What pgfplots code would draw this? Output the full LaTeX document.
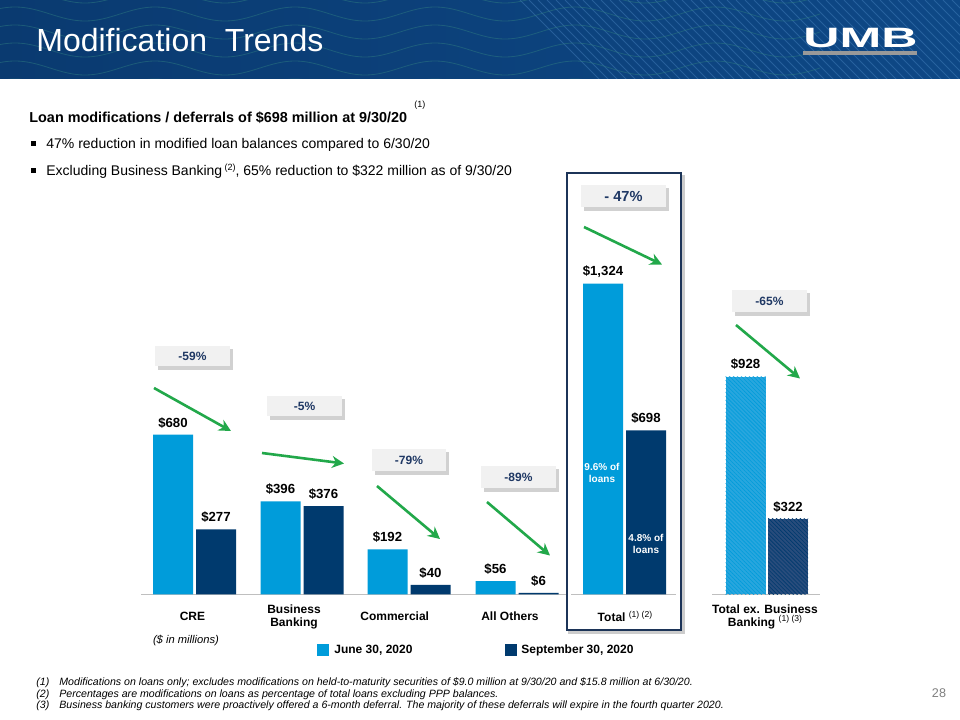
\documentclass[border=0pt]{standalone}
\usepackage{fontspec}
\setmainfont{Liberation Sans}
\usepackage{pgfplots}
\pgfplotsset{compat=1.18}
\usetikzlibrary{patterns,patterns.meta,arrows.meta}

\definecolor{lb}{RGB}{0,156,218}
\definecolor{db}{RGB}{0,58,110}
\definecolor{hl}{RGB}{40,166,222}
\definecolor{hd}{RGB}{40,76,124}
\definecolor{arr}{RGB}{34,168,74}
\definecolor{boxf}{RGB}{241,241,241}
\definecolor{navy}{RGB}{31,56,100}
\definecolor{frm}{RGB}{28,52,88}
\definecolor{hdrL}{RGB}{10,58,112}
\definecolor{hdrR}{RGB}{14,72,134}
\definecolor{stripe}{RGB}{70,130,190}
\definecolor{wave}{RGB}{50,130,130}

\newcommand{\fs}[2]{\fontsize{#1bp}{#2bp}\selectfont}
\newcommand{\pbox}[6]{%
  \fill[black!18] (#1+2.5,#2+3) rectangle (#3+3,#4+3.5);
  \fill[boxf] (#1,#2) rectangle (#3,#4);
  \node[text=navy, font=\bfseries\fs{#6}{#6}, inner sep=0] at ({(#1+#3)/2},{(#2+#4)/2}) {#5};}

\begin{document}
\begin{tikzpicture}[x=0.5bp,y=-0.5bp]
\path[use as bounding box] (0,0) rectangle (960,720);
\fill[white] (0,0) rectangle (960,720);
% header
\shade[left color=hdrL, right color=hdrR] (0,0) rectangle (960,78);
\begin{scope}
\clip (0,0) rectangle (960,78);
\foreach \i in {520,529,...,960} \draw[stripe, opacity=0.45, line width=0.5bp] (\i,0) -- ++(80,80);
\foreach \j in {-4,14,32,50,68,86}
  \draw[wave, opacity=0.45, line width=0.4bp] (-20,\j) \foreach \k in {0,...,5} { sin ++(35,-7) cos ++(35,7) sin ++(35,7) cos ++(35,-7)};
\end{scope}
\node[anchor=base west, text=white, font=\fs{16}{20}, inner sep=0] at (36,51) {Modification\ \ Trends};
\node[anchor=base west, text=white, font=\bfseries\fs{14}{14}, inner sep=0] at (803,47) {\scalebox{1.79}[1]{UMB}};
\fill[black!40] (803,51) rectangle (917,55);

% intro text
\node[anchor=base west, font=\bfseries\fs{7.2}{8}, inner sep=0] at (29,122) {Loan modifications / deferrals of \$698 million at 9/30/20};
\node[anchor=base west, font=\fs{4.5}{5}, inner sep=0] at (414,107) {(1)};
\fill (31,141) rectangle (35.5,145.5);
\node[anchor=base west, font=\fs{7}{8}, inner sep=0] at (46,148) {47\% reduction in modified loan balances compared to 6/30/20};
\fill (31,168) rectangle (35.5,172.5);
\node[anchor=base west, font=\fs{7}{8}, inner sep=0] at (46,175) {Excluding Business Banking\,\raisebox{2.5bp}{\fs{4.5}{5}(2)}, 65\% reduction to \$322 million as of 9/30/20};

% highlight frame
\draw[black!20, line width=1.5bp] (569,176) rectangle (683,632);
\fill[white] (567,173) rectangle (681,630);
\draw[frm, line width=1.1bp] (567,173) rectangle (681,630);

% baseline lines
\draw[black!25, line width=0.6bp] (141,594.5) -- (566,594.5);
\draw[black!25, line width=0.6bp] (571,594.5) -- (676,594.5);
\draw[black!25, line width=0.6bp] (712,594.5) -- (820,594.5);

\begin{axis}[at={(0bp,-360bp)}, anchor=south west, width=480bp, height=360bp, scale only axis,
  xmin=0, xmax=960, ymin=-535.6, ymax=2532.2, clip=false,
  axis line style={draw=none}, ytick=\empty, major tick length=0pt,
  xtick={192.5,294,394.7,510,625,765},
  xticklabels={CRE, {Business\\Banking}, Commercial, All Others, {Total \raisebox{2.2bp}{\fs{4.3}{5}\mdseries(1) (2)}}, {Total ex. Business\\Banking \raisebox{2.2bp}{\fs{4.3}{5}\mdseries(1) (3)}}},
  xticklabel style={anchor=center, align=center, yshift=51.75bp, font=\bfseries\fs{6}{6.5}, inner sep=0pt},
  every node near coord/.append style={font=\bfseries\fs{6.6}{7}, text=black, inner sep=0pt, anchor=center, yshift=6bp},
]
% June 30, 2020 (bars placed at their own centres)
\addplot[ybar, bar width=40, bar shift=0, fill=lb, draw=none, nodes near coords, point meta=explicit symbolic]
  coordinates {(173,680)[\$680] (280.5,396)[\$396] (387.5,192)[\$192] (495.5,56)[\$56] (603,1324)[{\$1,324}]};
% September 30, 2020
\addplot[ybar, bar width=40, bar shift=0, fill=db, draw=none, nodes near coords, point meta=explicit symbolic]
  coordinates {(216,277)[\$277] (323.5,376)[\$376] (430.5,40)[\$40] (538.5,6)[\$6] (646,698)[\$698]};
% Total ex. Business Banking
\addplot[ybar, bar width=40, bar shift=0, fill=hl, draw=none, nodes near coords, point meta=explicit symbolic,
  postaction={pattern={Lines[angle=-45,distance=1.4bp,line width=0.3bp]}, pattern color=lb}]
  coordinates {(745.5,928)[\$928]};
\addplot[ybar, bar width=40, bar shift=0, fill=hd, draw=none, nodes near coords, point meta=explicit symbolic,
  postaction={pattern={Lines[angle=-45,distance=1.4bp,line width=0.3bp]}, pattern color=db}]
  coordinates {(788,322)[\$322]};
\end{axis}

% in-bar notes
\node[text=white, font=\bfseries\fs{5}{5.8}, align=center, inner sep=0] at (602,473) {9.6\% of\\loans};
\node[text=white, font=\bfseries\fs{5}{5.8}, align=center, inner sep=0] at (646,544) {4.8\% of\\loans};

% percentage boxes
\pbox{155}{346}{230}{366}{-59\%}{6}
\pbox{267}{396}{342}{416}{-5\%}{6}
\pbox{372}{449}{446}{471}{-79\%}{6}
\pbox{481}{466}{556}{488}{-89\%}{6}
\pbox{581}{185}{666}{207}{- 47\%}{7.3}
\pbox{732}{290}{807}{312}{-65\%}{6}

% arrows
\begin{scope}[arr, line width=1.3bp, -{Stealth[length=6bp,width=6bp]}]
\draw (154,388) -- (231,431);
\draw (262,453) -- (344,463.5);
\draw (377,486) -- (440,539);
\draw (487,502) -- (550,555.5);
\draw (584,227) -- (662,264.5);
\draw (736,325) -- (800,378.5);
\end{scope}

% notes & legend
\node[font=\itshape\fs{5.6}{6}, inner sep=0] at (186,641) {(\$ in millions)};
\fill[lb] (317,644) rectangle (329,656);
\node[anchor=west, font=\bfseries\fs{6}{7}, inner sep=0] at (334,650.5) {June 30, 2020};
\fill[db] (505,644) rectangle (517,656);
\node[anchor=west, font=\bfseries\fs{6}{7}, inner sep=0] at (521,650.5) {September 30, 2020};

% footnotes
\begin{scope}[every node/.style={anchor=base west, font=\itshape\fs{5.3}{6}, inner sep=0}]
\node at (36,685) {(1)};
\node at (59,685) {Modifications on loans only; excludes modifications on held-to-maturity securities of \$9.0 million at 9/30/20 and \$15.8 million at 6/30/20.};
\node at (36,697) {(2)};
\node at (59,697) {Percentages are modifications on loans as percentage of total loans excluding PPP balances.};
\node at (36,708.5) {(3)};
\node at (59,708.5) {Business banking customers were proactively offered a 6-month deferral. The majority of these deferrals will expire in the fourth quarter 2020.};
\end{scope}
\node[text=black!50, font=\fs{6.3}{7}, inner sep=0] at (939,693) {28};
\end{tikzpicture}
\end{document}
